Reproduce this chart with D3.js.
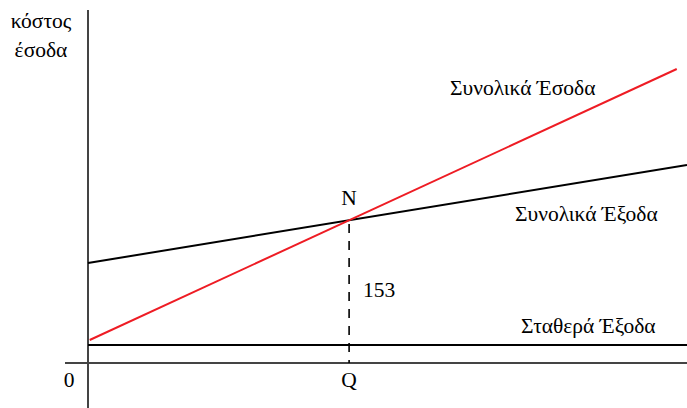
<!DOCTYPE html>
<html>
<head>
<meta charset="utf-8">
<script src="https://cdn.jsdelivr.net/npm/d3@7"></script>
<style>
  html, body { margin: 0; padding: 0; background: #fff; }
</style>
</head>
<body>
<svg id="chart" width="687" height="408"></svg>
<script>
// Break-even diagram: quantity on the horizontal axis, cost / revenue on the vertical
const quantityRange = [0, 351];
const fixedCost = [18, 18];            // Σταθερά Έξοδα
const totalCost = [100, 198];          // Συνολικά Έξοδα at quantity 0 and 351
const revenueQuantity = [1, 345];
const revenue = [23, 294];             // Συνολικά Έσοδα
const breakEvenQ = 153;
const breakEvenValue = 143;
const axisLabels = ["κόστος", "έσοδα"];
const seriesLabels = ["Συνολικά Έσοδα", "Συνολικά Έξοδα", "Σταθερά Έξοδα"];

const svg = d3.select("#chart");
const x = d3.scaleLinear().domain([0, 351]).range([88, 687]);
const y = d3.scaleLinear().domain([0, 353]).range([363, 10]);

const line = d3.line().x(d => x(d[0])).y(d => y(d[1]));

// axes
svg.append("line").attr("x1", 88).attr("x2", 88).attr("y1", y(353)).attr("y2", 408)
  .attr("stroke", "#444").attr("stroke-width", 2);
svg.append("line").attr("x1", 65).attr("x2", 687).attr("y1", y(0)).attr("y2", y(0))
  .attr("stroke", "#444").attr("stroke-width", 2);

// fixed cost
svg.append("path").datum(quantityRange.map((q, i) => [q, fixedCost[i]]))
  .attr("d", line).attr("fill", "none").attr("stroke", "#000").attr("stroke-width", 2);

// total cost
svg.append("path").datum(quantityRange.map((q, i) => [q, totalCost[i]]))
  .attr("d", line).attr("fill", "none").attr("stroke", "#000").attr("stroke-width", 2);

// total revenue
svg.append("path").datum(revenueQuantity.map((q, i) => [q, revenue[i]]))
  .attr("d", line).attr("fill", "none").attr("stroke", "#ee1c24").attr("stroke-width", 2);

// break-even drop line
svg.append("line").attr("x1", x(breakEvenQ)).attr("x2", x(breakEvenQ))
  .attr("y1", y(breakEvenValue) + 4).attr("y2", y(0))
  .attr("stroke", "#000").attr("stroke-width", 1.6).attr("stroke-dasharray", "9,8");

const fs = 21.5;
const label = (t, xx, yy, anchor) => svg.append("text").attr("x", xx).attr("y", yy)
  .style("font-family", "'Liberation Serif'")
  .attr("font-size", fs).attr("fill", "#000")
  .attr("text-anchor", anchor || "start").text(t);

label(axisLabels[0], 41, 28, "middle");
label(axisLabels[1], 41, 57, "middle");
label(seriesLabels[0], 450, 95);
label(seriesLabels[1], 515, 221);
label(seriesLabels[2], 521, 333);
label("N", x(breakEvenQ), 205, "middle");
label(String(breakEvenQ), 363, 297);
label("0", 69, 387, "middle");
label("Q", x(breakEvenQ), 387, "middle");
</script>
</body>
</html>
